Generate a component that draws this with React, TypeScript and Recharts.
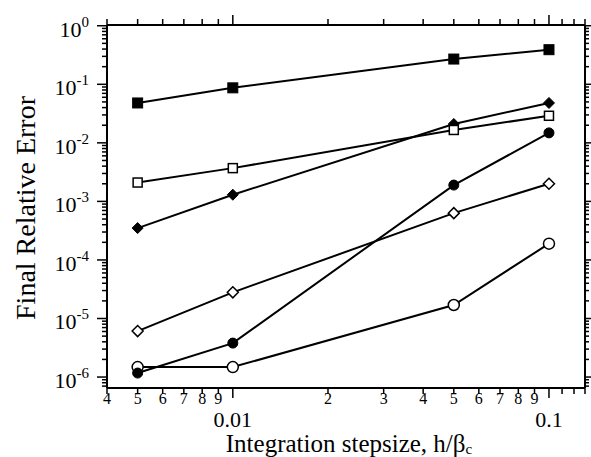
import React from "react";
import { LineChart, Line, XAxis, YAxis } from "recharts";

const stepsizes = [0.005, 0.01, 0.05, 0.1];
const filledSquare = [0.048, 0.087, 0.27, 0.39];
const openSquare = [0.0021, 0.0037, 0.0166, 0.029];
const filledDiamond = [3.5e-4, 1.3e-3, 0.021, 0.048];
const filledCircle = [1.17e-6, 3.8e-6, 1.9e-3, 0.0148];
const openDiamond = [6.1e-6, 2.8e-5, 6.3e-4, 2.0e-3];
const openCircle = [1.48e-6, 1.48e-6, 1.7e-5, 1.9e-4];

const xTicks = [
  0.004, 0.005, 0.006, 0.007, 0.008, 0.009, 0.01,
  0.02, 0.03, 0.04, 0.05, 0.06, 0.07, 0.08, 0.09, 0.1,
  0.11, 0.12, 0.13,
];
const xTickLabels = [
  "4", "5", "6", "7", "8", "9", "0.01",
  "2", "3", "4", "5", "6", "7", "8", "9", "0.1",
  "", "", "",
];
const xDecades = [0.01, 0.1];

const yDecades = [1e-6, 1e-5, 1e-4, 1e-3, 1e-2, 1e-1, 1];
const yDecadeExponents = ["-6", "-5", "-4", "-3", "-2", "-1", "0"];
const yMinorMultipliers = [2, 3, 4, 5, 6, 7, 8, 9];

const X_DOMAIN: [number, number] = [0.004, 0.13];
const Y_DOMAIN: [number, number] = [6.5e-7, 1.03];

const yTicks: number[] = [];
[1e-7, ...yDecades].forEach((d) => {
  yMinorMultipliers.forEach((m) => {
    const v = d * m;
    if (v >= Y_DOMAIN[0] && v <= Y_DOMAIN[1]) yTicks.push(v);
  });
});
yDecades.forEach((d) => yTicks.push(d));
yTicks.sort((a, b) => a - b);

const rows = stepsizes.map((x, i) => ({
  x,
  fsq: filledSquare[i],
  osq: openSquare[i],
  fdi: filledDiamond[i],
  fci: filledCircle[i],
  odi: openDiamond[i],
  oci: openCircle[i],
}));

const FONT = "'Liberation Serif', 'Times New Roman', serif";

const isDecade = (v: number, list: number[]) =>
  list.some((d) => Math.abs(v - d) / d < 1e-6);

const BottomTick = (props: any) => {
  const { x, y, payload } = props;
  const v = payload.value;
  const idx = xTicks.findIndex((t) => Math.abs(t - v) / t < 1e-6);
  const label = idx >= 0 ? xTickLabels[idx] : "";
  const major = isDecade(v, xDecades);
  return (
    <g>
      <line x1={x} y1={y} x2={x} y2={y + (major ? 10 : 6)} stroke="#000" strokeWidth={1.5} />
      {label && !major && (
        <text x={x} y={y + 16} textAnchor="middle" fontFamily={FONT} fontSize={16} fill="#000">
          {label}
        </text>
      )}
      {label && major && (
        <text x={x} y={y + 39} textAnchor="middle" fontFamily={FONT} fontSize={22} fill="#000">
          {label}
        </text>
      )}
    </g>
  );
};

const TopTick = (props: any) => {
  const { x, y, payload } = props;
  const major = isDecade(payload.value, xDecades);
  return <line x1={x} y1={y} x2={x} y2={y - (major ? 10 : 6)} stroke="#000" strokeWidth={1.5} />;
};

const LeftTick = (props: any) => {
  const { x, y, payload } = props;
  const v = payload.value;
  const di = yDecades.findIndex((d) => Math.abs(v - d) / d < 1e-6);
  const major = di >= 0;
  return (
    <g>
      <line x1={x} y1={y} x2={x - (major ? 10 : 5)} y2={y} stroke="#000" strokeWidth={1.5} />
      {major && (
        <text x={89} y={y + 11} textAnchor="end" fontFamily={FONT} fontSize={22} fill="#000">
          <tspan>10</tspan>
          <tspan dy={-10} fontSize={15}>{yDecadeExponents[di]}</tspan>
        </text>
      )}
    </g>
  );
};

const RightTick = (props: any) => {
  const { x, y, payload } = props;
  const major = isDecade(payload.value, yDecades);
  return <line x1={x} y1={y} x2={x + (major ? 6 : 4)} y2={y} stroke="#000" strokeWidth={1.5} />;
};

const FilledSquareDot = (p: any) => (
  <rect key={p.index} x={p.cx - 5} y={p.cy - 5} width={10} height={10} fill="#000" stroke="#000" />
);
const OpenSquareDot = (p: any) => (
  <rect key={p.index} x={p.cx - 4.5} y={p.cy - 4.5} width={9} height={9} fill="#fff" stroke="#000" strokeWidth={1.5} />
);
const FilledDiamondDot = (p: any) => (
  <path key={p.index} d={`M${p.cx},${p.cy - 5.5}L${p.cx + 5.5},${p.cy}L${p.cx},${p.cy + 5.5}L${p.cx - 5.5},${p.cy}Z`} fill="#000" stroke="#000" />
);
const OpenDiamondDot = (p: any) => (
  <path key={p.index} d={`M${p.cx},${p.cy - 5.5}L${p.cx + 5.5},${p.cy}L${p.cx},${p.cy + 5.5}L${p.cx - 5.5},${p.cy}Z`} fill="#fff" stroke="#000" strokeWidth={1.5} />
);
const FilledCircleDot = (p: any) => (
  <circle key={p.index} cx={p.cx} cy={p.cy} r={5} fill="#000" stroke="#000" />
);
const OpenCircleDot = (p: any) => (
  <circle key={p.index} cx={p.cx} cy={p.cy} r={5.5} fill="#fff" stroke="#000" strokeWidth={1.5} />
);

const series = [
  { key: "oci", dot: OpenCircleDot },
  { key: "fci", dot: FilledCircleDot },
  { key: "odi", dot: OpenDiamondDot },
  { key: "fdi", dot: FilledDiamondDot },
  { key: "osq", dot: OpenSquareDot },
  { key: "fsq", dot: FilledSquareDot },
];

export default function App() {
  return (
    <div style={{ position: "absolute", left: 0, top: 0, width: 591, height: 457, background: "#fff" }}>
      <LineChart width={591} height={457} data={rows} margin={{ top: 0, right: 0, bottom: 0, left: 0 }}>
        <XAxis
          xAxisId="b"
          dataKey="x"
          type="number"
          scale="log"
          domain={X_DOMAIN}
          allowDataOverflow
          ticks={xTicks}
          interval={0}
          tickSize={0}
          tickMargin={0}
          tick={<BottomTick />}
          height={69}
          axisLine={{ stroke: "#000", strokeWidth: 2 }}
        />
        <XAxis
          xAxisId="t"
          orientation="top"
          dataKey="x"
          type="number"
          scale="log"
          domain={X_DOMAIN}
          allowDataOverflow
          ticks={xTicks}
          interval={0}
          tickSize={0}
          tickMargin={0}
          tick={<TopTick />}
          height={25}
          axisLine={{ stroke: "#000", strokeWidth: 2 }}
        />
        <YAxis
          yAxisId="l"
          type="number"
          scale="log"
          domain={Y_DOMAIN}
          allowDataOverflow
          ticks={yTicks}
          interval={0}
          tickSize={0}
          tickMargin={0}
          tick={<LeftTick />}
          width={107}
          axisLine={{ stroke: "#000", strokeWidth: 2 }}
        />
        <YAxis
          yAxisId="r"
          orientation="right"
          type="number"
          scale="log"
          domain={Y_DOMAIN}
          allowDataOverflow
          ticks={yTicks}
          interval={0}
          tickSize={0}
          tickMargin={0}
          tick={<RightTick />}
          width={6}
          axisLine={{ stroke: "#000", strokeWidth: 2 }}
        />
        {series.map((s) => (
          <Line
            key={s.key}
            xAxisId="b"
            yAxisId="l"
            dataKey={s.key}
            stroke="#000"
            strokeWidth={2}
            dot={s.dot}
            activeDot={false}
            isAnimationActive={false}
          />
        ))}
        <text x={35} y={208} transform="rotate(-90 35 208)" textAnchor="middle" fontFamily={FONT} fontSize={28} fill="#000">
          Final Relative Error
        </text>
        <text x={349} y={452} textAnchor="middle" fontFamily={FONT} fontSize={25} fill="#000">
          Integration stepsize, h/β<tspan dy={2} fontSize={15}>c</tspan>
        </text>
      </LineChart>
    </div>
  );
}
